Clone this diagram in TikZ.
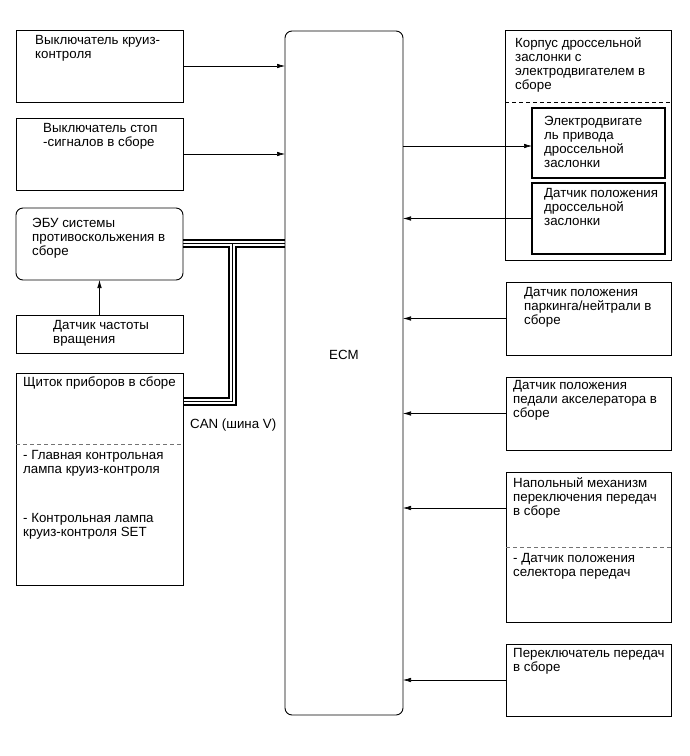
\documentclass[tikz,border=0pt]{standalone}
\usepackage{fontspec}
\setmainfont{Liberation Sans}
\usetikzlibrary{arrows.meta}
\begin{document}
\begin{tikzpicture}[x=1pt,y=-1pt,
  box/.style={draw, line width=0.9pt, inner sep=0pt, outer sep=0pt, anchor=north west},
  ibox/.style={box, line width=1.1pt},
  txt/.style={anchor=north west, inner sep=0pt, align=left, font=\fontsize{13.3}{14}\selectfont},
  arr/.style={-{Latex[length=8pt,width=4.5pt]}, line width=0.6pt},
  dashline/.style={dashed, dash pattern=on 4pt off 3pt, line width=0.6pt},
  busouter/.style={line width=1.3pt},
  busmid/.style={line width=0.7pt}]
\fill[white] (0,0) rectangle (689,756);
\useasboundingbox (0,0) rectangle (689,756);

% left column
\node[box, minimum width=167pt, minimum height=72pt] (l1) at (16,30) {};
\node[box, minimum width=167pt, minimum height=72pt] (l2) at (16,118) {};
\node[box, rounded corners=7pt, minimum width=167pt, minimum height=72pt] (l3) at (16,208) {};
\node[box, minimum width=167pt, minimum height=38pt] (l4) at (16,315) {};
\node[box, minimum width=167pt, minimum height=212pt] (l5) at (16,373) {};

% ECM
\node[box, rounded corners=7pt, minimum width=118pt, minimum height=684pt] (ecm) at (285,31) {};
\node[font=\fontsize{13.3}{14}\selectfont, inner sep=0pt] (ecmlabel) at (344,355) {ECM};

% right column
\node[box, minimum width=166pt, minimum height=230pt] (r1) at (505,30) {};
\node[ibox, minimum width=133pt, minimum height=70pt] (i1) at (532,108) {};
\node[ibox, minimum width=133pt, minimum height=71pt] (i2) at (532,183) {};
\node[box, minimum width=165pt, minimum height=73pt] (r2) at (506,282) {};
\node[box, minimum width=165pt, minimum height=73pt] (r3) at (506,377) {};
\node[box, minimum width=165pt, minimum height=150pt] (r4) at (506,472) {};
\node[box, minimum width=165pt, minimum height=72pt] (r5) at (506,644) {};

% dashed separators
\draw[dashline, black] (r1.west |- 0,102) -- (r1.east |- 0,102);
\draw[dashline, black!55] (l5.west |- 0,444) -- (l5.east |- 0,444);
\draw[dashline, black!55] (r4.west |- 0,547) -- (r4.east |- 0,547);

% texts
\node[txt] (t1) at (35,35) {Выключатель круиз-\\контроля};
\node[txt] (t2) at (43,123) {Выключатель стоп\\-сигналов в сборе};
\node[txt] (t3) at (32,218) {ЭБУ системы\\противоскольжения в\\сборе};
\node[txt] (t4) at (53,320) {Датчик частоты\\вращения};
\node[txt] (t5) at (23,377) {Щиток приборов в сборе};
\node[txt] (t5b) at (23,450) {- Главная контрольная\\лампа круиз-контроля};
\node[txt] (t5c) at (23,513) {- Контрольная лампа\\круиз-контроля SET};
\node[txt] (can) at (190,419) {CAN (шина V)};

\node[txt] (tr1) at (515,37) {Корпус дроссельной\\заслонки с\\электродвигателем в\\сборе};
\node[txt] (ti1) at (544,116) {Электродвигате\\ль привода\\дроссельной\\заслонки};
\node[txt] (ti2) at (544,188) {Датчик положения\\дроссельной\\заслонки};
\node[txt] (tr2) at (524,287) {Датчик положения\\паркинга/нейтрали в\\сборе};
\node[txt] (tr3) at (513,380) {Датчик положения\\педали акселератора в\\сборе};
\node[txt] (tr4) at (513,477) {Напольный механизм\\переключения передач\\в сборе};
\node[txt] (tr4b) at (513,553) {- Датчик положения\\селектора передач};
\node[txt] (tr5) at (513,648) {Переключатель передач\\в сборе};

% arrows
\draw[arr] (l1.east) -- (l1.east -| ecm.west);
\draw[arr] (l2.east) -- (l2.east -| ecm.west);
\draw[arr] (l4.north) -- (l3.south);
\draw[arr] (ecm.east |- 0,146) -- (i1.west |- 0,146);
\draw[arr] (i2.west) -- (i2.west -| ecm.east);
\draw[arr] (r2.west) -- (r2.west -| ecm.east);
\draw[arr] (r3.west) -- (r3.west -| ecm.east);
\coordinate (r4in) at (506,508);
\draw[arr] (r4in) -- (r4in -| ecm.east);
\draw[arr] (r5.west) -- (r5.west -| ecm.east);

% CAN bus
\draw[busouter] (l3.east |- 0,240) -- (ecm.west |- 0,240);
\draw[busmid] (l3.east |- 0,243.5) -- (ecm.west |- 0,243.5);
\draw[busmid] (232.5,243.5) -- (232.5,401.5) -- (l5.east |- 0,401.5);
\draw[busouter] (l3.east |- 0,247) -- (229,247) -- (229,398) -- (l5.east |- 0,398);
\draw[busouter] (ecm.west |- 0,247) -- (236,247) -- (236,405) -- (l5.east |- 0,405);
\end{tikzpicture}
\end{document}
